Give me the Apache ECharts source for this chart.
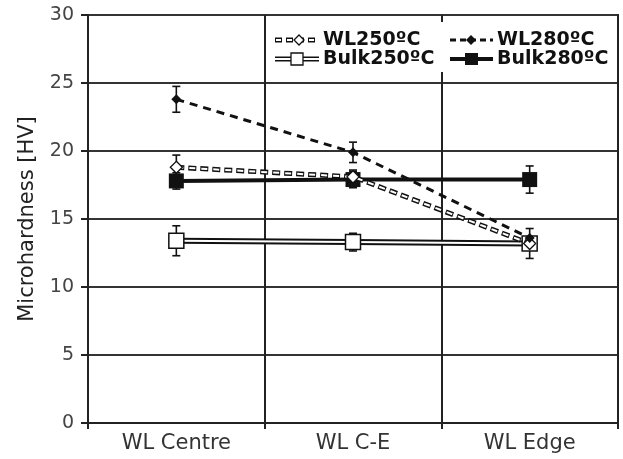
<!DOCTYPE html>
<html><head><meta charset="utf-8">
<script src="https://cdn.jsdelivr.net/npm/echarts@6/dist/echarts.min.js"></script>
<style>html,body{margin:0;padding:0;background:#fff}#c{width:623px;height:459px}</style>
</head><body><div id="c"></div>
<script>
const categories = ['WL Centre', 'WL C-E', 'WL Edge'];
const yTicks = [0, 5, 10, 15, 20, 25, 30];
const wl250 = [18.8, 18.1, 13.2];
const wl250Err = [0.9, 0.5, 1.1];
const wl280 = [23.8, 19.9, 13.6];
const wl280Err = [0.95, 0.75, 0];
const bulk250 = [13.4, 13.3, 13.2];
const bulk250Err = [1.1, 0.65, 0];
const bulk280 = [17.8, 17.9, 17.9];
const bulk280Err = [0.6, 0.6, 1.0];
const legendNames = ['WL250ºC', 'WL280ºC', 'Bulk250ºC', 'Bulk280ºC'];

const chart = echarts.init(document.getElementById('c'));
const FONT = 'DejaVu Sans';

function errData(vals, errs) {
  const out = [];
  vals.forEach((v, i) => { if (errs[i] > 0) out.push([i, v - errs[i], v + errs[i]]); });
  return out;
}
const allErr = [].concat(errData(wl250, wl250Err), errData(wl280, wl280Err),
  errData(bulk250, bulk250Err), errData(bulk280, bulk280Err));

function renderErr(params, api) {
  const lo = api.coord([api.value(0), api.value(1)]);
  const hi = api.coord([api.value(0), api.value(2)]);
  const style = { stroke: '#111', lineWidth: 1.6 };
  const w = 4;
  return { type: 'group', children: [
    { type: 'line', shape: { x1: lo[0], y1: lo[1], x2: hi[0], y2: hi[1] }, style },
    { type: 'line', shape: { x1: lo[0] - w, y1: lo[1], x2: lo[0] + w, y2: lo[1] }, style },
    { type: 'line', shape: { x1: hi[0] - w, y1: hi[1], x2: hi[0] + w, y2: hi[1] }, style }
  ]};
}

// legend drawn with graphics
const LX1 = 275, LX2 = 450, LY1 = 40, LY2 = 59, LW = 44;
const LFONT = 'bold 19px ' + FONT;
function hollowLine(x, y, w, dashed) {
  const outer = { stroke: '#111', lineWidth: 5 };
  const inner = { stroke: '#fff', lineWidth: 2 };
  if (dashed) { outer.lineDash = [7, 4]; inner.lineDash = [5, 6]; inner.lineDashOffset = -1; }
  return [
    { type: 'line', shape: { x1: x, y1: y, x2: x + w, y2: y }, style: outer },
    { type: 'line', shape: { x1: x, y1: y, x2: x + w, y2: y }, style: inner }
  ];
}
const legendGraphics = [
  { type: 'rect', shape: { x: 268, y: 22, width: 348, height: 50 }, style: { fill: '#fff' }, z: 10 },
  ...hollowLine(LX1, LY1, LW, true).map(g => Object.assign(g, { z: 11 })),
  { type: 'polygon', shape: { points: [[LX1 + 24, LY1 - 5], [LX1 + 29, LY1], [LX1 + 24, LY1 + 5], [LX1 + 19, LY1]] }, style: { fill: '#fff', stroke: '#111', lineWidth: 1.3 }, z: 12 },
  { type: 'text', style: { text: legendNames[0], x: LX1 + 48, y: LY1, verticalAlign: 'middle', font: LFONT, fill: '#111' }, z: 12 },
  { type: 'line', shape: { x1: LX2, y1: LY1, x2: LX2 + 43, y2: LY1 }, style: { stroke: '#111', lineWidth: 3, lineDash: [6, 4] }, z: 11 },
  { type: 'polygon', shape: { points: [[LX2 + 21, LY1 - 5], [LX2 + 26, LY1], [LX2 + 21, LY1 + 5], [LX2 + 16, LY1]] }, style: { fill: '#111' }, z: 12 },
  { type: 'text', style: { text: legendNames[1], x: LX2 + 47, y: LY1, verticalAlign: 'middle', font: LFONT, fill: '#111' }, z: 12 },
  ...hollowLine(LX1, LY2, LW, false).map(g => Object.assign(g, { z: 11 })),
  { type: 'rect', shape: { x: LX1 + 16, y: LY2 - 6, width: 12, height: 12 }, style: { fill: '#fff', stroke: '#111', lineWidth: 1.3 }, z: 12 },
  { type: 'text', style: { text: legendNames[2], x: LX1 + 48, y: LY2, verticalAlign: 'middle', font: LFONT, fill: '#111' }, z: 12 },
  { type: 'line', shape: { x1: LX2, y1: LY2, x2: LX2 + 43, y2: LY2 }, style: { stroke: '#111', lineWidth: 4 }, z: 11 },
  { type: 'rect', shape: { x: LX2 + 15, y: LY2 - 6, width: 13, height: 12 }, style: { fill: '#111' }, z: 12 },
  { type: 'text', style: { text: legendNames[3], x: LX2 + 47, y: LY2, verticalAlign: 'middle', font: LFONT, fill: '#111' }, z: 12 }
];

chart.setOption({
  animation: false,
  backgroundColor: '#fff',
  grid: { left: 88, right: 5, top: 15, bottom: 36, show: true, borderColor: '#222', borderWidth: 2, backgroundColor: 'transparent' },
  xAxis: {
    type: 'category', data: categories, boundaryGap: true,
    axisLine: { lineStyle: { color: '#222', width: 2 } },
    axisTick: { show: true, length: 6, lineStyle: { color: '#222', width: 2 } },
    axisLabel: { fontFamily: FONT, fontSize: 21, color: '#333', margin: 10 },
    splitLine: { show: true, lineStyle: { color: '#222', width: 2 } }
  },
  yAxis: {
    type: 'value', min: yTicks[0], max: yTicks[yTicks.length - 1], interval: 5,
    name: 'Microhardness [HV]', nameLocation: 'middle', nameGap: 50,
    nameTextStyle: { fontFamily: FONT, fontSize: 21, color: '#222' },
    axisLine: { show: true, lineStyle: { color: '#222', width: 2 } },
    axisTick: { show: true, length: 7, lineStyle: { color: '#222', width: 2 } },
    axisLabel: { fontFamily: FONT, fontSize: 19, color: '#444', margin: 14 },
    splitLine: { show: true, lineStyle: { color: '#333', width: 2 } }
  },
  graphic: legendGraphics,
  series: [
    { type: 'custom', renderItem: renderErr, data: allErr, z: 3 },
    { name: 'Bulk250 outer', type: 'line', data: bulk250, symbol: 'none', lineStyle: { color: '#111', width: 6 }, z: 4 },
    { name: legendNames[2], type: 'line', data: bulk250, symbol: 'rect', symbolSize: 15,
      itemStyle: { color: '#fff', borderColor: '#111', borderWidth: 1.5 }, lineStyle: { color: '#fff', width: 2 }, z: 5 },
    { name: legendNames[3], type: 'line', data: bulk280, symbol: 'rect', symbolSize: 15,
      itemStyle: { color: '#111' }, lineStyle: { color: '#111', width: 4 }, z: 6 },
    { name: 'WL250 outer', type: 'line', data: wl250, symbol: 'none', lineStyle: { color: '#111', width: 5, type: [8, 4] }, z: 7 },
    { name: legendNames[0], type: 'line', data: wl250, symbol: 'diamond', symbolSize: 12,
      itemStyle: { color: '#fff', borderColor: '#111', borderWidth: 1.3 },
      lineStyle: { color: '#fff', width: 2, type: [6, 6], dashOffset: -1 }, z: 8 },
    { name: legendNames[1], type: 'line', data: wl280, symbol: 'diamond', symbolSize: 10,
      itemStyle: { color: '#111' }, lineStyle: { color: '#111', width: 3, type: [8, 6] }, z: 9 }
  ]
});
</script></body></html>
